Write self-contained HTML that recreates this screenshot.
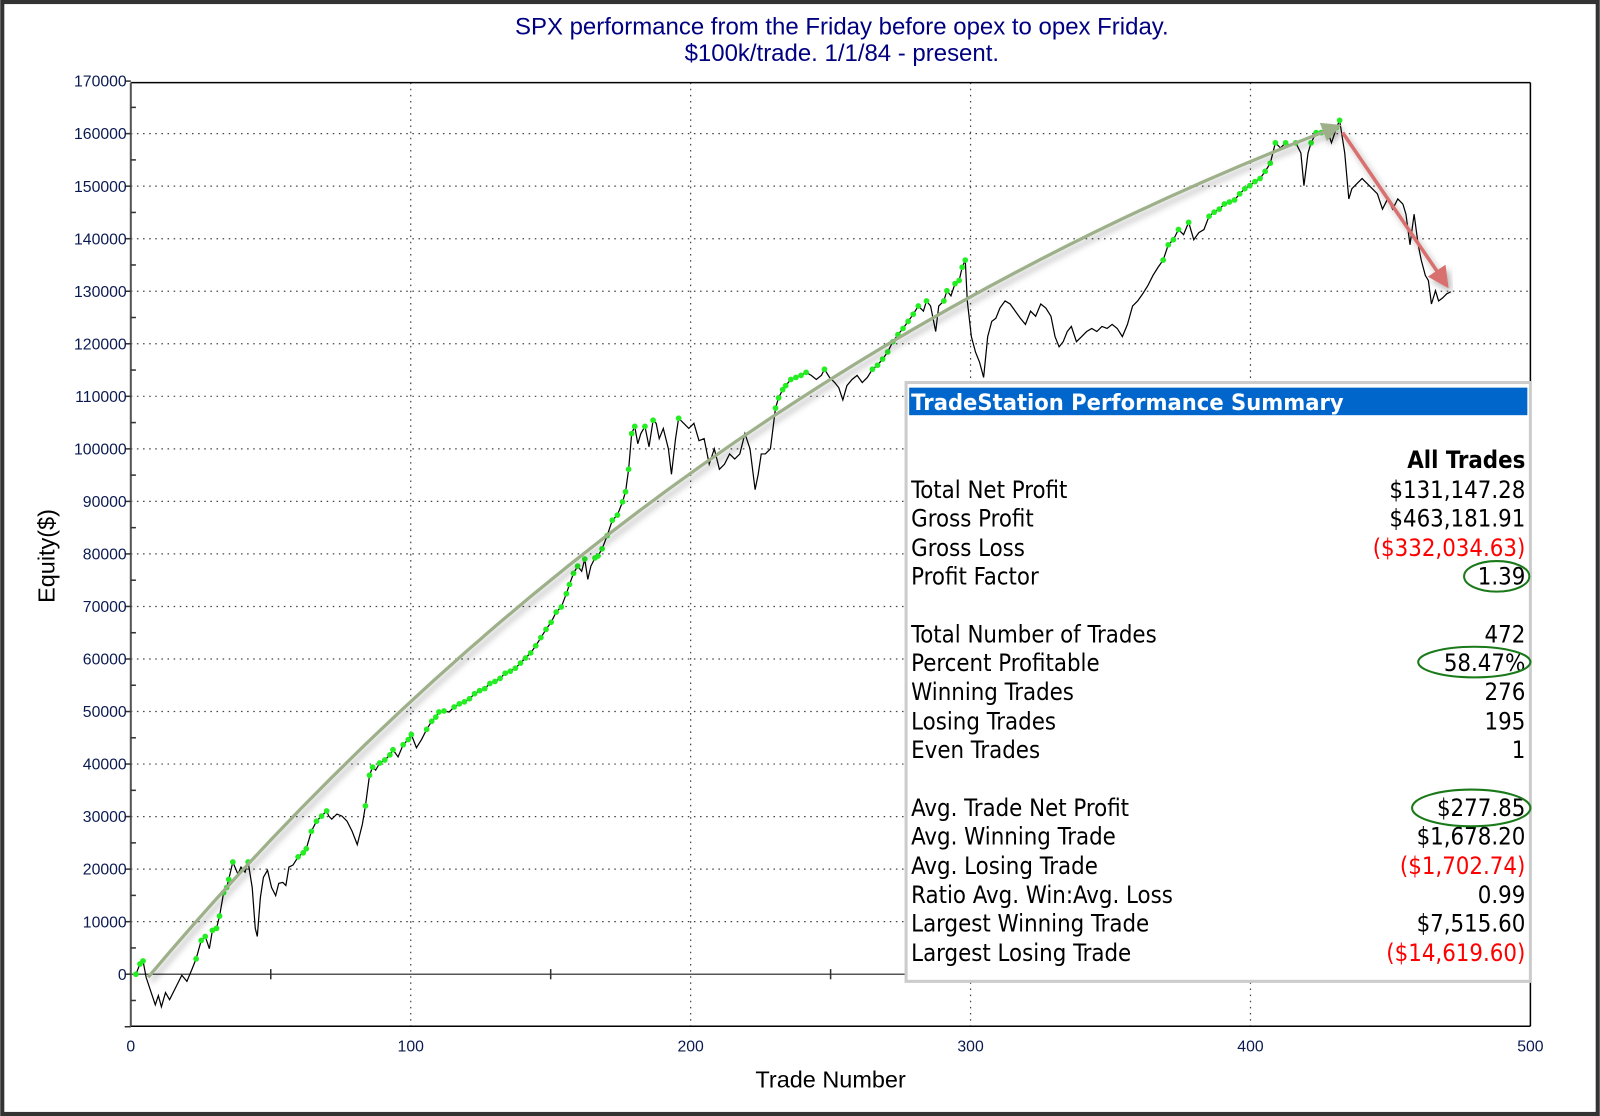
<!DOCTYPE html>
<html><head><meta charset="utf-8"><style>
html,body{margin:0;padding:0;background:#fff;}
svg{display:block;}
</style></head><body>
<svg id="s" width="1600" height="1116" viewBox="0 0 1568 1094" xmlns="http://www.w3.org/2000/svg" font-family="Liberation Sans, Arial, sans-serif">
<defs>
<filter id="sh" x="-10%" y="-10%" width="120%" height="120%"><feDropShadow dx="3" dy="4" stdDeviation="3" flood-color="#000" flood-opacity="0.3"/></filter>
<marker id="ag" markerWidth="6" markerHeight="6" refX="3" refY="3" orient="auto" markerUnits="strokeWidth"><path d="M0,0 L6,3 L0,6 z" fill="#9db08a"/></marker>
<marker id="ar" markerWidth="6" markerHeight="6" refX="3" refY="3" orient="auto" markerUnits="strokeWidth"><path d="M0,0 L6,3 L0,6 z" fill="#d97070"/></marker>
</defs>
<rect x="0" y="0" width="1568" height="1094" fill="#fff"/>
<rect x="2" y="2" width="1564" height="1090" fill="none" stroke="#333" stroke-width="4"/>
<text x="825" y="34" font-size="23.5" fill="#000080" text-anchor="middle">SPX performance from the Friday before opex to opex Friday.</text>
<text x="825" y="60" font-size="23.5" fill="#000080" text-anchor="middle">$100k/trade. 1/1/84 - present.</text>
<g id="grid" stroke="#444" stroke-width="1.2" stroke-dasharray="1.5,4.5"></g>
<line x1="128" y1="81" x2="1500" y2="81" stroke="#000" stroke-width="1.5"/>
<line x1="1500" y1="81" x2="1500" y2="1006" stroke="#000" stroke-width="1.5"/>
<line x1="128" y1="1006" x2="1500" y2="1006" stroke="#000" stroke-width="1.5"/>
<line x1="128" y1="955" x2="1500" y2="955" stroke="#555" stroke-width="1.5"/>
<line x1="128" y1="81" x2="128" y2="1006" stroke="#555" stroke-width="2"/>
<g id="ticks"></g>
<text x="0" y="0" font-size="23" fill="#000" text-anchor="middle" transform="translate(53,545) rotate(-90)">Equity($)</text>
<text x="814" y="1066" font-size="23" fill="#000" text-anchor="middle">Trade Number</text>
<polyline id="eq" fill="none" stroke="#000" stroke-width="1.2"/>
<g id="dots" fill="#22ee22"></g>
<path d="M145,958 Q625,388 1306,126" fill="none" stroke="#9db08a" stroke-width="3.2" filter="url(#sh)" marker-end="url(#ag)"/>
<line x1="1316" y1="130" x2="1414" y2="274" stroke="#d97070" stroke-width="3.5" filter="url(#sh)" marker-end="url(#ar)"/>
<g>
<rect x="888" y="375" width="612" height="587" fill="#fff" stroke="#ccc" stroke-width="3"/>
<rect x="891" y="380" width="606" height="27" fill="#0066cc"/>
<text x="893" y="402" font-size="22" font-weight="bold" fill="#fff" font-family="DejaVu Sans, sans-serif" textLength="424" lengthAdjust="spacingAndGlyphs">TradeStation Performance Summary</text>
<g font-family="DejaVu Sans Condensed, DejaVu Sans, sans-serif" font-size="23.3" fill="#000">
<text x="1495" y="459" text-anchor="end" font-weight="bold">All Trades</text>
<g id="rows"></g>
</g>
<g fill="none" stroke="#1a7a1a" stroke-width="2">
<ellipse cx="1467" cy="565" rx="32" ry="15"/>
<ellipse cx="1445" cy="649" rx="55" ry="15"/>
<ellipse cx="1442" cy="792" rx="58" ry="18"/>
</g>
</g>
</svg>
<script>
var NS="http://www.w3.org/2000/svg";
function el(t,a,p,txt){var e=document.createElementNS(NS,t);for(var k in a)e.setAttribute(k,a[k]);if(txt!==undefined)e.textContent=txt;p.appendChild(e);return e;}
var g=document.getElementById('grid'),tk=document.getElementById('ticks');
function Y(v){return 955-v*0.00515;}
for(var v=-10000;v<=170000;v+=5000){var y=Y(v);
 if(v%10000===0){ if(v>-10000&&v<170000&&v!==0) el('line',{x1:128,y1:y,x2:1500,y2:y},g);
  el('line',{x1:122,y1:y,x2:128,y2:y,stroke:'#333','stroke-width':1.5},tk);
  if(v>-10000) el('text',{x:124,y:y+5.5,'font-size':15.5,fill:'#0a1a50','text-anchor':'end'},tk,String(v));}
 else el('line',{x1:128,y1:y,x2:133,y2:y,stroke:'#333','stroke-width':1.5},tk);}
for(var t=0;t<=500;t+=50){var x=128+2.744*t;
 if(t%100===0){ if(t>0&&t<500) el('line',{x1:x,y1:81,x2:x,y2:1006},g);
  el('text',{x:x,y:1031,'font-size':15.5,fill:'#0a1a50','text-anchor':'middle'},tk,String(t));}
 else el('line',{x1:x,y1:950,x2:x,y2:960,stroke:'#333','stroke-width':1.5},tk);}
var P=[133,955,137,945,140,942,143,958,147,970,152,985,155,976,158,987,162,973,166,980,172,968,178,956,183,962,188,950,192,940,197,922,201,918,205,930,208,912,212,910,215,898,219,875,222,870,224,862,228,845,233,857,236,850,240,855,243,845,247,870,250,910,252,918,255,880,258,860,262,853,266,870,270,878,273,866,277,865,280,868,283,850,287,848,292,840,297,836,300,832,305,815,310,805,315,800,320,795,322,800,325,803,330,798,335,800,340,805,345,815,350,828,355,808,358,790,362,760,365,752,368,755,372,748,377,745,382,740,385,735,390,742,395,730,400,725,403,720,408,733,413,725,418,715,423,707,427,703,430,698,435,697,440,698,445,693,450,690,455,688,460,685,465,680,470,677,475,675,480,670,485,668,490,665,495,660,500,658,505,655,510,650,515,645,520,640,525,633,530,625,535,617,540,610,545,600,550,595,555,582,558,573,562,562,566,555,570,560,573,548,576,568,579,555,583,547,586,545,590,538,595,525,600,510,605,505,610,492,613,482,616,460,619,425,622,418,625,435,628,425,632,418,636,438,640,412,643,415,646,430,650,420,655,440,658,465,662,430,665,410,670,415,675,420,680,415,685,432,690,430,695,455,700,440,705,460,710,455,715,445,720,450,725,445,730,425,735,440,740,480,743,465,746,445,750,445,755,440,760,400,763,390,767,382,770,378,775,372,780,370,785,368,790,365,795,368,800,372,805,368,808,362,813,370,818,375,822,380,826,392,830,378,835,372,840,368,845,375,850,370,855,362,860,358,865,352,870,345,875,335,880,328,885,322,890,315,895,308,900,300,905,305,908,295,912,300,917,325,920,300,925,295,928,285,932,290,936,278,940,275,943,262,946,255,948,295,952,330,956,345,960,355,964,370,968,330,972,315,976,312,980,302,985,295,990,298,995,305,1000,312,1005,318,1010,305,1015,310,1020,298,1025,302,1030,310,1034,330,1038,340,1042,335,1046,325,1050,320,1055,335,1060,330,1065,325,1070,322,1075,325,1080,320,1085,322,1090,318,1095,322,1100,330,1105,318,1110,300,1115,295,1120,288,1125,280,1130,270,1135,262,1140,255,1145,240,1150,235,1155,225,1160,230,1165,218,1170,235,1175,228,1180,225,1185,212,1190,208,1195,205,1200,200,1205,198,1210,196,1215,190,1220,185,1225,182,1230,178,1235,175,1240,168,1245,160,1250,140,1255,145,1260,140,1265,143,1270,140,1275,150,1278,182,1282,150,1285,140,1290,130,1295,130,1300,125,1305,140,1310,125,1313,118,1318,150,1322,195,1325,185,1330,180,1335,175,1340,180,1345,185,1350,190,1355,205,1360,195,1365,205,1370,195,1375,200,1378,210,1382,240,1386,210,1390,240,1393,255,1397,270,1400,275,1403,298,1407,285,1410,295,1414,292,1418,288,1422,286];
var pts=[],d=document.getElementById('dots'),mn=1e9;
for(var i=0;i<P.length;i+=2){pts.push(P[i]+','+P[i+1]);if(P[i+1]<=mn){mn=P[i+1];el('circle',{cx:P[i],cy:P[i+1],r:2.8},d);}}
document.getElementById('eq').setAttribute('points',pts.join(' '));
var R=[["Total Net Profit","$131,147.28",488,0],["Gross Profit","$463,181.91",516,0],["Gross Loss","($332,034.63)",545,1],["Profit Factor","1.39",573,0],
["Total Number of Trades","472",630,0],["Percent Profitable","58.47%",658,0],["Winning Trades","276",686,0],["Losing Trades","195",715,0],["Even Trades","1",743,0],
["Avg. Trade Net Profit","$277.85",800,0],["Avg. Winning Trade","$1,678.20",828,0],["Avg. Losing Trade","($1,702.74)",857,1],["Ratio Avg. Win:Avg. Loss","0.99",885,0],["Largest Winning Trade","$7,515.60",913,0],["Largest Losing Trade","($14,619.60)",942,1]];
var rg=document.getElementById('rows');
R.forEach(function(r){el('text',{x:893,y:r[2]},rg,r[0]);el('text',{x:1495,y:r[2],'text-anchor':'end',fill:r[3]?'#ff0000':'#000'},rg,r[1]);});
</script>
</body></html>
